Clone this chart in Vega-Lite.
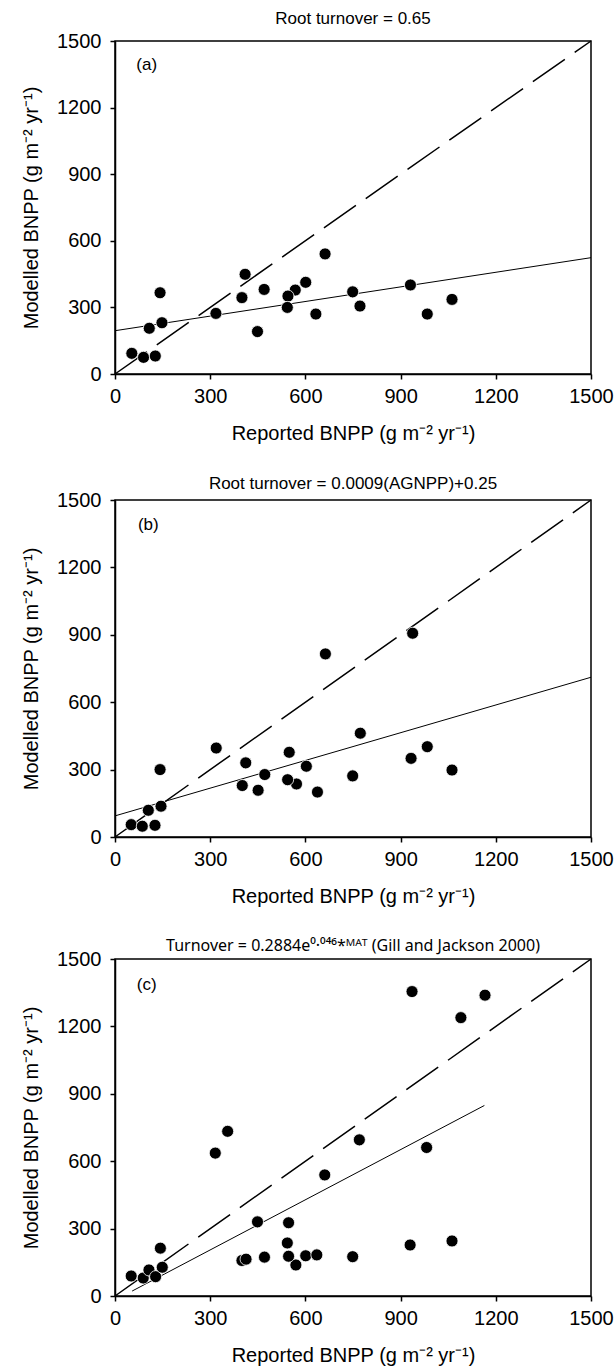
{
  "$schema": "https://vega.github.io/schema/vega-lite/v6.json",
  "padding": {"left": 20, "top": 9, "right": 0, "bottom": 0},
  "spacing": 30,
  "datasets": {
    "pts": [
      {"panel": "a", "reported": 53, "modelled": 93},
      {"panel": "a", "reported": 90, "modelled": 75},
      {"panel": "a", "reported": 127, "modelled": 81},
      {"panel": "a", "reported": 108, "modelled": 206},
      {"panel": "a", "reported": 148, "modelled": 231},
      {"panel": "a", "reported": 142, "modelled": 366},
      {"panel": "a", "reported": 318, "modelled": 273},
      {"panel": "a", "reported": 400, "modelled": 344},
      {"panel": "a", "reported": 410, "modelled": 449},
      {"panel": "a", "reported": 449, "modelled": 191},
      {"panel": "a", "reported": 470, "modelled": 381},
      {"panel": "a", "reported": 568, "modelled": 378},
      {"panel": "a", "reported": 545, "modelled": 351},
      {"panel": "a", "reported": 543, "modelled": 300},
      {"panel": "a", "reported": 601, "modelled": 413},
      {"panel": "a", "reported": 633, "modelled": 270},
      {"panel": "a", "reported": 662, "modelled": 541},
      {"panel": "a", "reported": 749, "modelled": 370},
      {"panel": "a", "reported": 772, "modelled": 306},
      {"panel": "a", "reported": 931, "modelled": 401},
      {"panel": "a", "reported": 984, "modelled": 270},
      {"panel": "a", "reported": 1062, "modelled": 336},
      {"panel": "b", "reported": 51, "modelled": 55},
      {"panel": "b", "reported": 86, "modelled": 48},
      {"panel": "b", "reported": 126, "modelled": 52},
      {"panel": "b", "reported": 105, "modelled": 119},
      {"panel": "b", "reported": 145, "modelled": 137},
      {"panel": "b", "reported": 142, "modelled": 300},
      {"panel": "b", "reported": 319, "modelled": 396},
      {"panel": "b", "reported": 412, "modelled": 330},
      {"panel": "b", "reported": 401, "modelled": 229},
      {"panel": "b", "reported": 451, "modelled": 208},
      {"panel": "b", "reported": 472, "modelled": 278},
      {"panel": "b", "reported": 549, "modelled": 377},
      {"panel": "b", "reported": 572, "modelled": 236},
      {"panel": "b", "reported": 544, "modelled": 255},
      {"panel": "b", "reported": 603, "modelled": 315},
      {"panel": "b", "reported": 638, "modelled": 200},
      {"panel": "b", "reported": 663, "modelled": 815},
      {"panel": "b", "reported": 749, "modelled": 272},
      {"panel": "b", "reported": 773, "modelled": 462},
      {"panel": "b", "reported": 933, "modelled": 350},
      {"panel": "b", "reported": 938, "modelled": 907},
      {"panel": "b", "reported": 984, "modelled": 402},
      {"panel": "b", "reported": 1062, "modelled": 298},
      {"panel": "c", "reported": 51, "modelled": 89},
      {"panel": "c", "reported": 89, "modelled": 80},
      {"panel": "c", "reported": 107, "modelled": 116},
      {"panel": "c", "reported": 128, "modelled": 86},
      {"panel": "c", "reported": 149, "modelled": 128},
      {"panel": "c", "reported": 143, "modelled": 213},
      {"panel": "c", "reported": 400, "modelled": 158},
      {"panel": "c", "reported": 413, "modelled": 164},
      {"panel": "c", "reported": 449, "modelled": 330},
      {"panel": "c", "reported": 471, "modelled": 173},
      {"panel": "c", "reported": 570, "modelled": 138},
      {"panel": "c", "reported": 547, "modelled": 326},
      {"panel": "c", "reported": 543, "modelled": 236},
      {"panel": "c", "reported": 547, "modelled": 177},
      {"panel": "c", "reported": 601, "modelled": 179},
      {"panel": "c", "reported": 636, "modelled": 183},
      {"panel": "c", "reported": 316, "modelled": 636},
      {"panel": "c", "reported": 355, "modelled": 733},
      {"panel": "c", "reported": 661, "modelled": 539},
      {"panel": "c", "reported": 749, "modelled": 175},
      {"panel": "c", "reported": 770, "modelled": 695},
      {"panel": "c", "reported": 930, "modelled": 227},
      {"panel": "c", "reported": 936, "modelled": 1355},
      {"panel": "c", "reported": 982, "modelled": 661},
      {"panel": "c", "reported": 1062, "modelled": 245},
      {"panel": "c", "reported": 1090, "modelled": 1239},
      {"panel": "c", "reported": 1166, "modelled": 1339}
    ],
    "fit": [
      {"panel": "a", "reported": 0, "modelled": 195},
      {"panel": "a", "reported": 1500, "modelled": 524},
      {"panel": "b", "reported": 0, "modelled": 94},
      {"panel": "b", "reported": 1500, "modelled": 711},
      {"panel": "c", "reported": 54, "modelled": 22},
      {"panel": "c", "reported": 1164, "modelled": 848}
    ],
    "diag": [
      {"reported": 0, "modelled": 0},
      {"reported": 1500, "modelled": 1500}
    ],
    "labels": [
      {"panel": "a", "reported": 100, "modelled": 1390, "label": "(a)"},
      {"panel": "b", "reported": 105, "modelled": 1390, "label": "(b)"},
      {"panel": "c", "reported": 100, "modelled": 1385, "label": "(c)"}
    ]
  },
  "vconcat": [
    {
      "title": {"text": "Root turnover = 0.65", "offset": 3},
      "width": 476, "height": 333,
      "layer": [
        {"data": {"name": "diag"}, "mark": {"type": "line", "color": "black", "strokeWidth": 1.5, "strokeDash": [39, 12]},
         "encoding": {"x": {"field": "reported", "type": "quantitative"}, "y": {"field": "modelled", "type": "quantitative"}}},
        {"data": {"name": "fit"}, "transform": [{"filter": "datum.panel == 'a'"}], "mark": {"type": "line", "color": "black", "strokeWidth": 1},
         "encoding": {"x": {"field": "reported", "type": "quantitative"}, "y": {"field": "modelled", "type": "quantitative"}}},
        {"data": {"name": "pts"}, "transform": [{"filter": "datum.panel == 'a'"}], "mark": {"type": "circle", "size": 145, "opacity": 1, "color": "black", "stroke": "white", "strokeWidth": 0.8},
         "encoding": {
           "x": {"field": "reported", "type": "quantitative", "scale": {"domain": [0, 1500], "nice": false}, "axis": {"values": [0, 300, 600, 900, 1200, 1500], "format": "d", "title": "Reported BNPP (g m⁻² yr⁻¹)"}},
           "y": {"field": "modelled", "type": "quantitative", "scale": {"domain": [0, 1500], "nice": false}, "axis": {"values": [0, 300, 600, 900, 1200, 1500], "format": "d", "title": "Modelled BNPP (g m⁻² yr⁻¹)"}}
         }},
        {"data": {"name": "labels"}, "transform": [{"filter": "datum.panel == 'a'"}], "mark": {"type": "text", "fontSize": 17, "color": "black"},
         "encoding": {"x": {"field": "reported", "type": "quantitative"}, "y": {"field": "modelled", "type": "quantitative"}, "text": {"field": "label"}}}
      ]
    },
    {
      "title": {"text": "Root turnover = 0.0009(AGNPP)+0.25", "offset": -3},
      "width": 476, "height": 337,
      "layer": [
        {"data": {"name": "diag"}, "mark": {"type": "line", "color": "black", "strokeWidth": 1.5, "strokeDash": [39, 12]},
         "encoding": {"x": {"field": "reported", "type": "quantitative"}, "y": {"field": "modelled", "type": "quantitative"}}},
        {"data": {"name": "fit"}, "transform": [{"filter": "datum.panel == 'b'"}], "mark": {"type": "line", "color": "black", "strokeWidth": 1},
         "encoding": {"x": {"field": "reported", "type": "quantitative"}, "y": {"field": "modelled", "type": "quantitative"}}},
        {"data": {"name": "pts"}, "transform": [{"filter": "datum.panel == 'b'"}], "mark": {"type": "circle", "size": 145, "opacity": 1, "color": "black", "stroke": "white", "strokeWidth": 0.8},
         "encoding": {
           "x": {"field": "reported", "type": "quantitative", "scale": {"domain": [0, 1500], "nice": false}, "axis": {"values": [0, 300, 600, 900, 1200, 1500], "format": "d", "title": "Reported BNPP (g m⁻² yr⁻¹)"}},
           "y": {"field": "modelled", "type": "quantitative", "scale": {"domain": [0, 1500], "nice": false}, "axis": {"values": [0, 300, 600, 900, 1200, 1500], "format": "d", "title": "Modelled BNPP (g m⁻² yr⁻¹)"}}
         }},
        {"data": {"name": "labels"}, "transform": [{"filter": "datum.panel == 'b'"}], "mark": {"type": "text", "fontSize": 17, "color": "black"},
         "encoding": {"x": {"field": "reported", "type": "quantitative"}, "y": {"field": "modelled", "type": "quantitative"}, "text": {"field": "label"}}}
      ]
    },
    {
      "title": {"text": "Turnover = 0.2884e⁰·⁰⁴⁶*ᴹᴬᵀ (Gill and Jackson 2000)", "offset": -5, "font": "Noto Sans", "fontSize": 16},
      "width": 476, "height": 337,
      "layer": [
        {"data": {"name": "diag"}, "mark": {"type": "line", "color": "black", "strokeWidth": 1.5, "strokeDash": [39, 12]},
         "encoding": {"x": {"field": "reported", "type": "quantitative"}, "y": {"field": "modelled", "type": "quantitative"}}},
        {"data": {"name": "fit"}, "transform": [{"filter": "datum.panel == 'c'"}], "mark": {"type": "line", "color": "black", "strokeWidth": 1},
         "encoding": {"x": {"field": "reported", "type": "quantitative"}, "y": {"field": "modelled", "type": "quantitative"}}},
        {"data": {"name": "pts"}, "transform": [{"filter": "datum.panel == 'c'"}], "mark": {"type": "circle", "size": 145, "opacity": 1, "color": "black", "stroke": "white", "strokeWidth": 0.8},
         "encoding": {
           "x": {"field": "reported", "type": "quantitative", "scale": {"domain": [0, 1500], "nice": false}, "axis": {"values": [0, 300, 600, 900, 1200, 1500], "format": "d", "title": "Reported BNPP (g m⁻² yr⁻¹)"}},
           "y": {"field": "modelled", "type": "quantitative", "scale": {"domain": [0, 1500], "nice": false}, "axis": {"values": [0, 300, 600, 900, 1200, 1500], "format": "d", "title": "Modelled BNPP (g m⁻² yr⁻¹)"}}
         }},
        {"data": {"name": "labels"}, "transform": [{"filter": "datum.panel == 'c'"}], "mark": {"type": "text", "fontSize": 17, "color": "black"},
         "encoding": {"x": {"field": "reported", "type": "quantitative"}, "y": {"field": "modelled", "type": "quantitative"}, "text": {"field": "label"}}}
      ]
    }
  ],
  "config": {
    "font": "Liberation Sans",
    "background": "white",
    "view": {"stroke": "black", "strokeWidth": 1.5},
    "axis": {"grid": false, "domainColor": "black", "domainWidth": 1.5, "tickColor": "black", "tickSize": 5, "tickWidth": 1.5,
             "labelFontSize": 20, "labelColor": "black", "labelFont": "Liberation Sans", "labelFlush": false, "labelOverlap": false,
             "titleFontSize": 20, "titleFontWeight": "normal", "titleColor": "black", "titleFont": "Liberation Sans"},
    "axisX": {"labelPadding": 7, "titlePadding": 17},
    "axisY": {"labelPadding": 9, "titlePadding": 15},
    "title": {"fontSize": 17, "fontWeight": "normal", "color": "black", "font": "Liberation Sans"}
  }
}
